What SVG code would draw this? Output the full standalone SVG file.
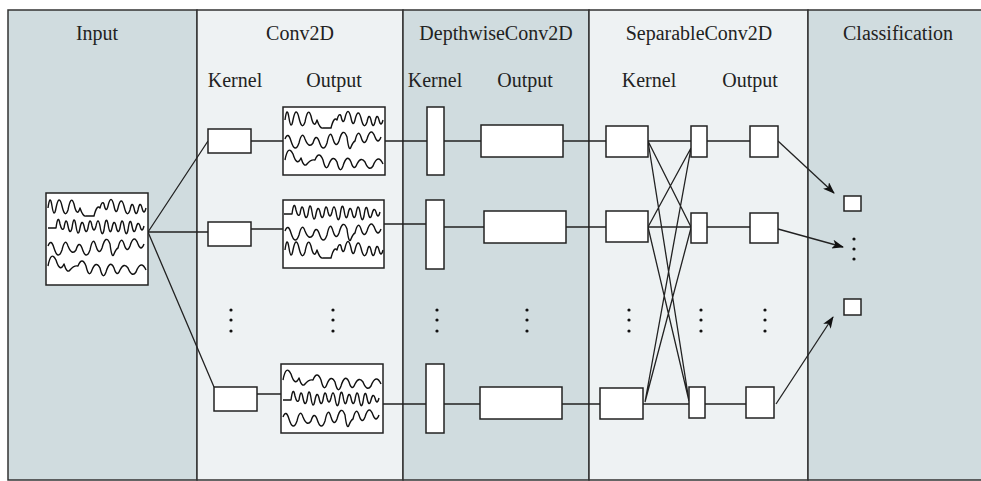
<svg xmlns="http://www.w3.org/2000/svg" width="981" height="481" viewBox="0 0 981 481">
<style>
.dark{fill:#d0dcdf;stroke:#333;stroke-width:1.5}
.light{fill:#eef2f3;stroke:#333;stroke-width:1.5}
.box{fill:#fff;stroke:#222;stroke-width:1.5}
.wave{fill:none;stroke:#111;stroke-width:1.4;stroke-linejoin:round}
.ln{fill:none;stroke:#222;stroke-width:1.3}
.lbl{font-family:"Liberation Serif","Times New Roman",serif;font-size:20px;fill:#222;text-anchor:middle}
.dot{fill:#111}
</style>
<defs>
<marker id="arr" markerWidth="12" markerHeight="9" refX="11" refY="4.5" orient="auto" markerUnits="userSpaceOnUse">
<path d="M0,0 L12,4.5 L0,9 L3,4.5 z" fill="#111"/>
</marker>
<path id="waveA" d="M0 0 q2 -15 4 -2 q2 13 4 2 q3 -15 6 -2 q3 13 6 4 q3 -16 6 -6 q3 14 6 4 q3 9 6 8 l8 0 q3 -12 6 -8 q2 -8 4 -4 q2 10 4 2 q3 -13 6 0 q2 10 4 2 q3 -13 6 -2 q3 13 6 4 q2 -10 4 -2 q2 10 4 2 q2 -10 4 -2 q2 8 4 0"/>
<path id="waveB" d="M0 0 l8 0 q2 -15 4 -4 q2 8 4 4 q2 -13 4 -2 q2 10 4 2 q2 -15 4 -2 q2 13 4 2 q2 -10 4 -2 q2 10 4 2 q2 -13 4 -2 q2 8 4 0 q2 -10 4 0 q2 13 4 4 q2 -16 4 -6 q2 13 4 4 q2 -10 4 -2 q2 10 4 2 q2 -13 4 -2 q2 13 4 4 q2 -15 4 -4 q2 10 4 2 q2 -8 4 -2 q2 8 4 0"/>
<path id="waveC" d="M0 0 q3 -8 6 2 q4 13 8 2 q3 -13 6 -4 q4 10 8 4 q3 -10 6 -2 q4 13 8 2 q3 -15 6 -4 q3 10 6 2 q4 -15 8 -4 q2 16 4 10 q2 -5 4 -6 q3 -13 6 -4 q3 10 6 2 q4 -13 8 -2 q3 8 6 0"/>
<path id="waveD" d="M0 0 q3 -16 8 -6 q4 13 8 4 q3 10 6 6 q4 -5 8 -4 q4 -10 8 0 q3 13 6 4 q4 -10 8 -2 q3 13 6 4 q4 -13 8 -4 q3 10 6 2 q4 -8 8 -2 q4 10 8 4 q5 -13 10 -2"/>
</defs>

<g id="panels">
<rect class="dark" x="8" y="10" width="189" height="470"/>
<rect class="light" x="197" y="10" width="206" height="470"/>
<rect class="dark" x="403" y="10" width="186" height="470"/>
<rect class="light" x="589" y="10" width="219" height="470"/>
<rect class="dark" x="808" y="10" width="185" height="470"/>
</g>

<g id="labels">
<text class="lbl" x="97" y="40">Input</text>
<text class="lbl" x="300" y="40">Conv2D</text>
<text class="lbl" x="496" y="40">DepthwiseConv2D</text>
<text class="lbl" x="699" y="40">SeparableConv2D</text>
<text class="lbl" x="898" y="40">Classification</text>
<text class="lbl" x="235" y="87">Kernel</text>
<text class="lbl" x="334" y="87">Output</text>
<text class="lbl" x="435" y="87">Kernel</text>
<text class="lbl" x="525" y="87">Output</text>
<text class="lbl" x="649" y="87">Kernel</text>
<text class="lbl" x="750" y="87">Output</text>
</g>

<g id="connectors">
<path class="ln" d="M148 232 L208 141 M148 232 L208 232 M148 232 L214 387"/>
<path class="ln" d="M251 141 H283 M251 229 H283 M257 394 H281"/>
<path class="ln" d="M385 141 H427 M444 141 H481 M563 141 H606 M648 141 H691 M707 141 H750"/>
<path class="ln" d="M384 224 H426 M444 227 H484 M566 227 H606 M648 227 H691 M707 227 H750"/>
<path class="ln" d="M383 404 H426 M444 404 H480 M562 404 H600 M643 404 H689 M705 404 H746"/>
<path class="ln" d="M648 141 L691 227 M648 141 L689 401 M648 227 L691 148 M648 227 L689 401 M645 402 L691 148 M645 402 L691 228"/>
<path class="ln" d="M778 141 L834 193" marker-end="url(#arr)"/>
<path class="ln" d="M778 229 L843 247" marker-end="url(#arr)"/>
<path class="ln" d="M776 404 L833 317" marker-end="url(#arr)"/>
</g>

<g id="input">
<rect class="box" x="46" y="193" width="102" height="92"/>
<use href="#waveA" class="wave" x="48" y="208"/>
<use href="#waveB" class="wave" x="48" y="228"/>
<use href="#waveC" class="wave" x="48" y="246"/>
<use href="#waveD" class="wave" x="48" y="266"/>
</g>

<g id="conv-kernels">
<rect class="box" x="208" y="129" width="43" height="24"/>
<rect class="box" x="208" y="222" width="43" height="24"/>
<rect class="box" x="214" y="387" width="43" height="24"/>
<circle class="dot" cx="231" cy="310" r="1.6"/><circle class="dot" cx="231" cy="320" r="1.6"/><circle class="dot" cx="231" cy="331" r="1.6"/>
</g>

<g id="conv-outputs">
<rect class="box" x="283" y="107" width="102" height="68"/>
<use href="#waveA" class="wave" x="285" y="120"/>
<use href="#waveC" class="wave" x="285" y="139"/>
<use href="#waveD" class="wave" x="285" y="160"/>
<rect class="box" x="283" y="200" width="101" height="68"/>
<use href="#waveB" class="wave" x="284" y="214"/>
<use href="#waveC" class="wave" x="285" y="231"/>
<use href="#waveA" class="wave" x="285" y="250"/>
<rect class="box" x="281" y="364" width="102" height="69"/>
<use href="#waveD" class="wave" x="283" y="380"/>
<use href="#waveB" class="wave" x="283" y="400"/>
<use href="#waveC" class="wave" x="283" y="417"/>
<circle class="dot" cx="333" cy="310" r="1.6"/><circle class="dot" cx="333" cy="320" r="1.6"/><circle class="dot" cx="333" cy="331" r="1.6"/>
</g>

<g id="dw-kernels">
<rect class="box" x="427" y="107" width="17" height="68"/>
<rect class="box" x="426" y="200" width="18" height="69"/>
<rect class="box" x="426" y="364" width="18" height="69"/>
<circle class="dot" cx="437" cy="310" r="1.6"/><circle class="dot" cx="437" cy="320" r="1.6"/><circle class="dot" cx="437" cy="331" r="1.6"/>
</g>

<g id="dw-outputs">
<rect class="box" x="481" y="125" width="82" height="32"/>
<rect class="box" x="484" y="211" width="82" height="32"/>
<rect class="box" x="480" y="387" width="82" height="32"/>
<circle class="dot" cx="527" cy="310" r="1.6"/><circle class="dot" cx="527" cy="320" r="1.6"/><circle class="dot" cx="527" cy="331" r="1.6"/>
</g>

<g id="sep-kernels">
<rect class="box" x="606" y="126" width="42" height="31"/>
<rect class="box" x="606" y="211" width="42" height="31"/>
<rect class="box" x="600" y="388" width="43" height="31"/>
<circle class="dot" cx="629" cy="310" r="1.6"/><circle class="dot" cx="629" cy="320" r="1.6"/><circle class="dot" cx="629" cy="331" r="1.6"/>
</g>

<g id="sep-pointwise">
<rect class="box" x="691" y="126" width="16" height="31"/>
<rect class="box" x="691" y="213" width="16" height="30"/>
<rect class="box" x="689" y="387" width="16" height="31"/>
<circle class="dot" cx="701" cy="310" r="1.6"/><circle class="dot" cx="701" cy="320" r="1.6"/><circle class="dot" cx="701" cy="331" r="1.6"/>
</g>

<g id="sep-outputs">
<rect class="box" x="750" y="126" width="28" height="31"/>
<rect class="box" x="750" y="213" width="28" height="30"/>
<rect class="box" x="746" y="387" width="28" height="31"/>
<circle class="dot" cx="765" cy="310" r="1.6"/><circle class="dot" cx="765" cy="320" r="1.6"/><circle class="dot" cx="765" cy="331" r="1.6"/>
</g>

<g id="classes">
<rect class="box" x="844" y="196" width="17" height="15"/>
<circle class="dot" cx="854" cy="239" r="1.6"/><circle class="dot" cx="854" cy="249" r="1.6"/><circle class="dot" cx="854" cy="259" r="1.6"/>
<rect class="box" x="844" y="299" width="17" height="16"/>
</g>
</svg>
